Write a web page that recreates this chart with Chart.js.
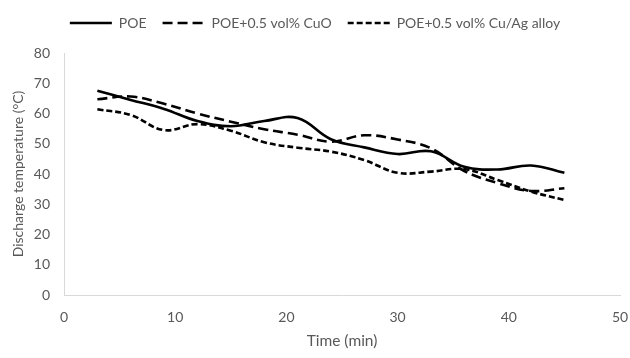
<!DOCTYPE html>
<html>
<head>
<meta charset="utf-8">
<script src="https://cdn.jsdelivr.net/npm/chart.js@4"></script>
<style>
  html, body { margin: 0; padding: 0; background: #fff; }
  #wrap { width: 630px; height: 358px; }
</style>
</head>
<body>
<div id="wrap"><canvas id="chart"></canvas></div>
<script>
const times = [3, 6, 9, 12, 15, 18, 21, 24, 27, 30, 33, 36, 39, 42, 45];
const poe = [67.5, 64.5, 61.5, 57.5, 55.8, 57.5, 58.5, 51.5, 48.8, 46.6, 47.5, 42.4, 41.5, 42.8, 40.4];
const poeCuO = [64.7, 65.6, 63.2, 60, 57.3, 54.8, 53, 50.7, 52.8, 51.4, 48.5, 41, 37, 34.4, 35.3];
const poeCuAg = [61.4, 59.5, 54.5, 56.5, 54.3, 50.5, 48.7, 47.4, 44.6, 40.4, 40.8, 41.6, 38, 34.2, 31.4];
const seriesNames = ['POE', 'POE+0.5 vol% CuO', 'POE+0.5 vol% Cu/Ag alloy'];
const dashes = [[], [10, 5], [6, 3]];

const textColor = '#595959';
const axisColor = '#d9d9d9';
const font = { family: 'Lato, sans-serif', size: 14 };

function toPoints(vals) {
  return vals.map((v, i) => ({ x: times[i], y: v }));
}

function makeSet(label, vals, dash) {
  return {
    label: label,
    data: toPoints(vals),
    borderColor: '#000',
    backgroundColor: '#000',
    borderWidth: 2.6,
    borderDash: dash,
    pointRadius: 0,
    pointStyle: 'line',
    tension: 0.4,
    fill: false
  };
}

// extra room under the legend
const legendGap = {
  id: 'legendGap',
  beforeInit(chart) {
    const fit = chart.legend.fit;
    chart.legend.fit = function () {
      fit.bind(chart.legend)();
      this.height += 13;
    };
  }
};

new Chart(document.getElementById('chart'), {
  type: 'line',
  data: {
    datasets: [
      makeSet(seriesNames[0], poe, dashes[0]),
      makeSet(seriesNames[1], poeCuO, dashes[1]),
      makeSet(seriesNames[2], poeCuAg, dashes[2])
    ]
  },
  options: {
    responsive: true,
    maintainAspectRatio: false,
    animation: false,
    layout: { padding: { left: 0, right: 0, top: 0, bottom: 4 } },
    plugins: {
      tooltip: { enabled: false },
      legend: {
        position: 'top',
        labels: {
          usePointStyle: true,
          pointStyleWidth: 42,
          boxHeight: 10,
          padding: 16,
          color: textColor,
          font: font,
          generateLabels: (chart) => chart.data.datasets.map((ds, i) => ({
            text: ds.label,
            datasetIndex: i,
            pointStyle: 'line',
            strokeStyle: '#000',
            fillStyle: '#000',
            lineWidth: 2.6,
            lineDash: dashes[i],
            fontColor: textColor
          }))
        }
      }
    },
    scales: {
      x: {
        type: 'linear',
        min: 0,
        max: 50,
        ticks: { stepSize: 10, color: textColor, font: font, padding: 14 },
        grid: { display: true, drawOnChartArea: false, drawTicks: false },
        border: { color: axisColor, width: 1 },
        title: { display: true, text: 'Time (min)', color: textColor, font: { family: 'Lato, sans-serif', size: 15.5 }, padding: { top: 2 } },
        afterFit: (s) => { s.height = 59; s.paddingLeft = 0; s.paddingRight = 10; }
      },
      y: {
        min: 0,
        max: 80,
        ticks: { stepSize: 10, color: textColor, font: font, padding: 14 },
        grid: { display: true, drawOnChartArea: false, drawTicks: false },
        border: { color: axisColor, width: 1 },
        title: { display: true, text: 'Discharge temperature (°C)', color: textColor, font: font, padding: { top: 10, bottom: 2 } },
        afterFit: (s) => { s.width = 64; }
      }
    }
  },
  plugins: [legendGap]
});
</script>
</body>
</html>
